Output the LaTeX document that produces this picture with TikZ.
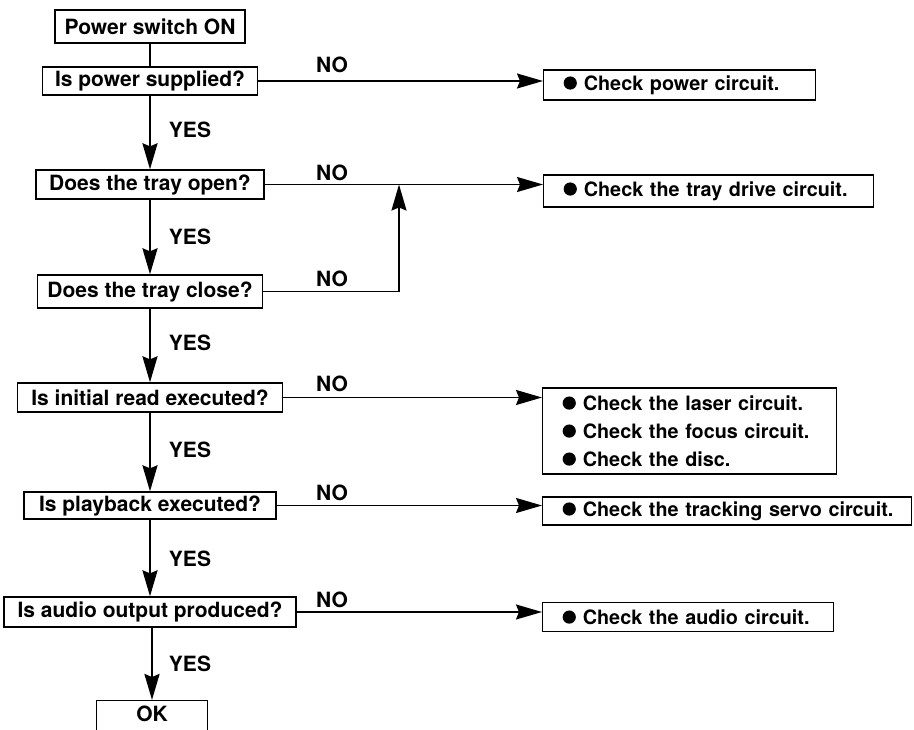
\documentclass[tikz,border=0pt]{standalone}
\usepackage{fontspec}
\setmainfont{TeX Gyre Heros}
\usetikzlibrary{arrows.meta}
\newcommand{\blt}{\tikz[baseline=0pt]\fill (0pt,7.2pt) circle (6.6pt);\hspace{7pt}}
\begin{document}
\begin{tikzpicture}[x=1pt,y=-1pt,
  every node/.style={font=\fontsize{21}{28}\selectfont\bfseries},
  qbox/.style={draw, line width=1.3pt, inner sep=0pt},
  cbox/.style={draw, line width=1.3pt, anchor=west, inner xsep=20pt, inner ysep=0pt, align=left,
    font=\fontsize{19.8}{28}\selectfont\bfseries},
  vline/.style={line width=2.4pt},
  hline/.style={line width=1.6pt},
  arr/.style={-{Stealth[length=26pt,width=15pt,inset=3pt]}},
  lbl/.style={inner sep=0pt}
]
\useasboundingbox (0,0) rectangle (914,730);
\clip (0,0) rectangle (914,730);

% question boxes
\node[qbox, minimum width=190pt, minimum height=33pt] (s)   at (150,26.5)  {Power switch ON};
\node[qbox, minimum width=215pt, minimum height=28pt] (ips) at (150,81)    {Is power supplied?};
\node[qbox, minimum width=228pt, minimum height=29pt] (dto) at (150,184.5) {Does the tray open?};
\node[qbox, minimum width=225pt, minimum height=33pt] (dtc) at (150,291.5) {Does the tray close?};
\node[qbox, minimum width=265pt, minimum height=29pt] (ire) at (150,397.5) {Is initial read executed?};
\node[qbox, minimum width=252pt, minimum height=27pt] (ipe) at (150,505.5) {Is playback executed?};
\node[qbox, minimum width=292pt, minimum height=30pt] (iao) at (150,612)   {Is audio output produced?};
\node[qbox, minimum width=111pt, minimum height=44pt, anchor=north] (ok) at (152,700) {};
\node[lbl] (oktxt) at (152,714) {OK};

% check boxes
\node[cbox, text width=232pt, minimum height=30pt] (pc) at (543,85)  {\mbox{\blt Check power circuit.}};
\node[cbox, text width=290pt, minimum height=32pt] (tc) at (543,191) {\mbox{\blt Check the tray drive circuit.}};
\node[cbox, text width=254pt, minimum height=86pt] (lc) at (542,431) {\mbox{\blt Check the laser circuit.}\\\mbox{\blt Check the focus circuit.}\\\mbox{\blt Check the disc.}};
\node[cbox, text width=329pt, minimum height=28pt] (sc) at (542,511) {\mbox{\blt Check the tracking servo circuit.}};
\node[cbox, text width=251pt, minimum height=29pt] (ac) at (542,617) {\mbox{\blt Check the audio circuit.}};

% YES path
\draw[vline] (s) -- (ips);
\draw[vline, arr] (ips) -- (dto);
\draw[vline, arr] (dto) -- (dtc);
\draw[vline, arr] (dtc) -- (ire);
\draw[vline, arr] (ire) -- (ipe);
\draw[vline, arr] (ipe) -- (iao);
\draw[vline, arr] (iao.south -| ok.north) -- (ok.north);

\node[lbl] (y1) at (190,130) {YES};
\node[lbl] (y2) at (190,237) {YES};
\node[lbl] (y3) at (190,343) {YES};
\node[lbl] (y4) at (190,450) {YES};
\node[lbl] (y5) at (190,559) {YES};
\node[lbl] (y6) at (190,664) {YES};

% NO paths
\coordinate (j) at (399,0);
\draw[hline, arr] (ips.east) -- (ips.east -| pc.west);
\draw[hline, arr] (dto.east) -- (dto.east -| tc.west);
\draw[hline, arr] (dtc.east) -| (dto.east -| j);
\draw[hline, arr] (ire.east) -- (ire.east -| lc.west);
\draw[hline, arr] (ipe.east) -- (ipe.east -| sc.west);
\draw[hline, arr] (iao.east) -- (iao.east -| ac.west);

\node[lbl] (n1) at (332,65)  {NO};
\node[lbl] (n2) at (332,173) {NO};
\node[lbl] (n3) at (332,279) {NO};
\node[lbl] (n4) at (332,384) {NO};
\node[lbl] (n5) at (332,493) {NO};
\node[lbl] (n6) at (332,600) {NO};
\end{tikzpicture}
\end{document}
